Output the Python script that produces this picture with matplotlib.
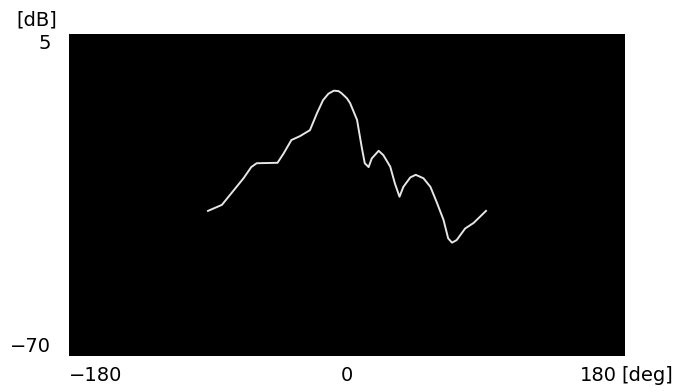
import matplotlib.pyplot as plt
from matplotlib.transforms import blended_transform_factory

# directivity pattern
angle_deg = [-90, -81, -74, -67, -62, -58.5, -45, -41, -36, -30.5, -24, -19.5,
             -15.5, -12, -8.5, -5.5, -3.5, 0, 2, 6.5, 9.5, 11.5, 14, 16, 20.5,
             23.5, 28, 31, 34, 36.5, 41, 44.5, 49.5, 54, 58, 62.5, 65.5, 68,
             71, 76.5, 82, 90]
level_db = [-36.2, -34.8, -31.7, -28.6, -26.0, -25.1, -25.0, -22.8, -19.7,
            -18.8, -17.4, -13.5, -10.4, -8.9, -8.2, -8.3, -8.8, -10.0, -11.1,
            -15.0, -21.3, -25.1, -26.0, -24.0, -22.2, -23.2, -25.9, -29.8,
            -32.9, -30.6, -28.4, -27.8, -28.6, -30.6, -34.1, -38.3, -42.6,
            -43.6, -43.0, -40.3, -39.0, -36.2]

x_ticks = [-180, 0, 180]
y_ticks = [-70, 5]

FONT = ['Liberation Sans Narrow', 'DejaVu Sans']
FS = 14

fig = plt.figure(figsize=(6.8, 3.92), dpi=100)
ax = fig.add_axes([69 / 680, 1 - 356 / 392, 556 / 680, 322 / 392])
ax.set_facecolor('black')
ax.plot(angle_deg, level_db, color='#e6e6e6', lw=1.4)
ax.set_xlim(-180, 180)
ax.set_ylim(-70, 5)
for s in ax.spines.values():
    s.set_visible(False)
ax.set_xticks([])
ax.set_yticks([])

# axis labels placed like the instrument screen
tx = blended_transform_factory(ax.transData, ax.transAxes)
ty = blended_transform_factory(ax.transAxes, ax.transData)
ax.text(x_ticks[0], -0.03, str(x_ticks[0]).replace('-', '\u2212'), transform=tx,
        ha='left', va='top', fontsize=FS, family=FONT)
ax.text(x_ticks[1], -0.03, str(x_ticks[1]), transform=tx,
        ha='center', va='top', fontsize=FS, family=FONT)
ax.text(x_ticks[2] - 5, -0.03, str(x_ticks[2]), transform=tx,
        ha='right', va='top', fontsize=FS, family=FONT)
ax.text(0.994, -0.03, '[deg]', transform=ax.transAxes,
        ha='left', va='top', fontsize=FS, family=FONT)

ax.text(-0.032, y_ticks[1], str(y_ticks[1]), transform=ty,
        ha='right', va='top', fontsize=FS, family=FONT)
ax.text(-0.032, y_ticks[0], str(y_ticks[0]).replace('-', '\u2212'), transform=ty,
        ha='right', va='bottom', fontsize=FS, family=FONT)
ax.text(-0.022, 1.015, '[dB]', transform=ax.transAxes,
        ha='right', va='bottom', fontsize=FS, family=FONT)

fig.savefig('out.png', dpi=100)
